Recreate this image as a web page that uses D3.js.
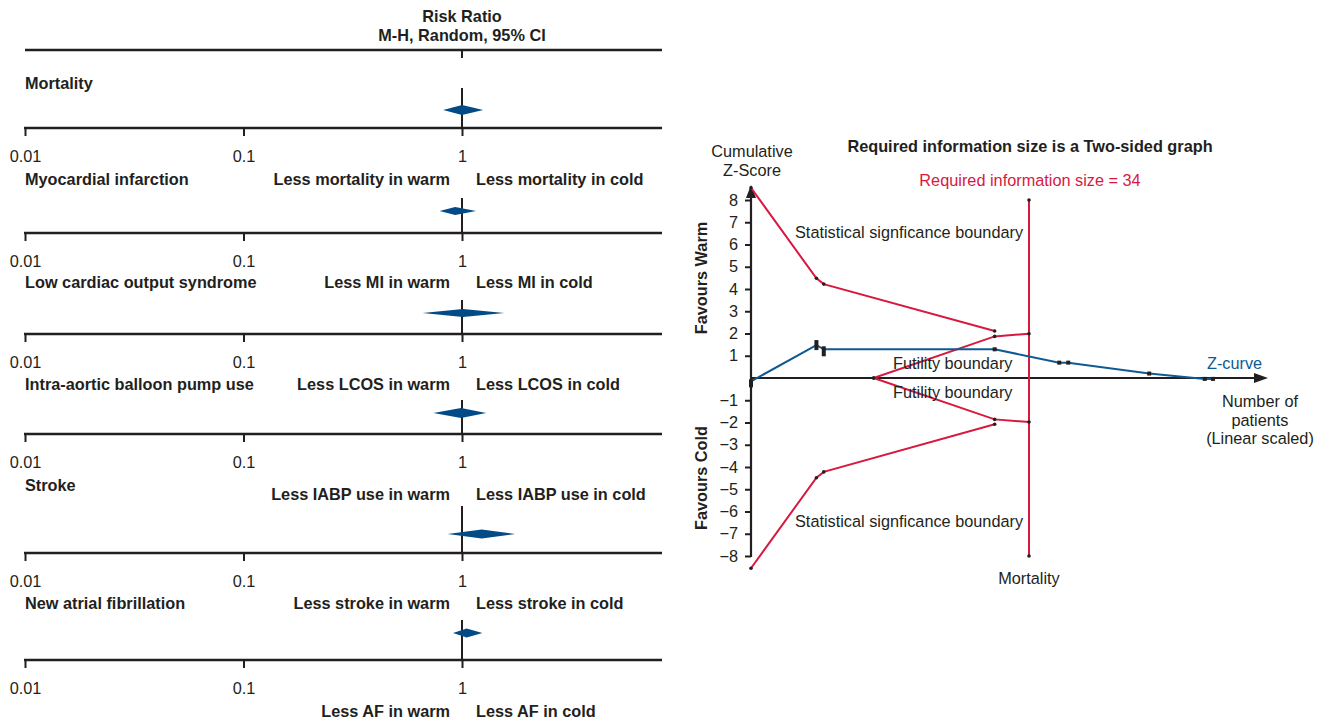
<!DOCTYPE html>
<html>
<head>
<meta charset="utf-8">
<script src="https://cdn.jsdelivr.net/npm/d3@7"></script>
<style>
  body { margin: 0; background: #fff; }
  svg { display: block; }
  text { font-family: "Liberation Sans", Arial, Helvetica, sans-serif; fill: #231f20; }
</style>
</head>
<body>
<svg id="fig" width="1326" height="721"></svg>
<script>
// ---- Forest plot: pooled risk ratios (M-H, random effects, 95% CI) ----
const outcomes = [
  "Mortality",
  "Myocardial infarction",
  "Low cardiac output syndrome",
  "Intra-aortic balloon pump use",
  "Stroke",
  "New atrial fibrillation"
];
const favourTerms = ["mortality", "MI", "LCOS", "IABP use", "stroke", "AF"];
const rrEstimate = [1.00, 0.93, 1.01, 0.99, 1.23, 1.05];
const rrLower    = [0.82, 0.79, 0.66, 0.74, 0.86, 0.91];
const rrUpper    = [1.25, 1.16, 1.56, 1.29, 1.75, 1.24];
const rrTicks    = [0.01, 0.1, 1];

// ---- Trial sequential analysis of mortality ----
const zTicks = [8, 7, 6, 5, 4, 3, 2, 1, -1, -2, -3, -4, -5, -6, -7, -8];
const requiredSize = 34;
const zCurvePatients = [0, 8, 8.9, 29.8, 37.7, 38.8, 48.7, 55.5, 56.5];
const zCurveValues   = [-0.15, 1.48, 1.29, 1.29, 0.69, 0.69, 0.20, -0.04, -0.04];
const sigPatients = [0, 8, 8.9, 29.8];
const sigUpper    = [8.55, 4.48, 4.22, 2.11];
const sigLower    = [-8.55, -4.48, -4.22, -2.08];
const futPatients = [15, 29.8, 34];
const futUpper    = [0, 1.87, 1.99];
const futLower    = [0, -1.86, -1.98];

const RED = "#d7193f", BLUE = "#0f5a93", DIAMOND = "#024b86", INK = "#231f20";
const FS = "16.3px";

const svg = d3.select("#fig");

// ================= Forest plot =================
const layout = {
  axisY:   [128, 233, 334, 434, 553, 660],
  titleY:  [83, 179, 282, 384, 485, 603],
  favourY: [179, 282, 384, 494, 603, 711],
  diamondY:[110, 211, 313, 413, 534, 633],
  refTop:  [88, 198, 300, 400, 506, 620],
  halfH:   [5, 4, 4, 5, 4.5, 4.5],
  axisEnd: 662
};

const xRR = d3.scaleLog().domain([0.01, 1]).range([25, 462]);
const forest = svg.append("g");

// heading
forest.append("text").attr("x", xRR(1)).attr("y", 22).attr("text-anchor", "middle")
  .style("font-size", FS).style("font-weight", "bold").text("Risk Ratio");
forest.append("text").attr("x", xRR(1)).attr("y", 41).attr("text-anchor", "middle")
  .style("font-size", FS).style("font-weight", "bold").text("M-H, Random, 95% CI");
forest.append("line").attr("x1", xRR(0.01)).attr("x2", layout.axisEnd)
  .attr("y1", 50).attr("y2", 50).attr("stroke", INK).attr("stroke-width", 2.5);
forest.append("line").attr("x1", xRR(1)).attr("x2", xRR(1))
  .attr("y1", 50).attr("y2", 58).attr("stroke", INK).attr("stroke-width", 2);

outcomes.forEach((name, i) => {
  const ay = layout.axisY[i];
  const g = forest.append("g");

  // outcome label
  g.append("text").attr("x", 25).attr("y", layout.titleY[i] + 5.5)
    .style("font-size", FS).style("font-weight", "bold").text(name);

  // line of no effect
  g.append("line").attr("x1", xRR(1)).attr("x2", xRR(1))
    .attr("y1", layout.refTop[i]).attr("y2", ay)
    .attr("stroke", INK).attr("stroke-width", 2);

  // pooled estimate diamond
  const cy = layout.diamondY[i], h = layout.halfH[i];
  const pts = [
    [xRR(rrLower[i]), cy], [xRR(rrEstimate[i]), cy - h],
    [xRR(rrUpper[i]), cy], [xRR(rrEstimate[i]), cy + h]
  ];
  g.append("path").attr("d", "M" + pts.join("L") + "Z").attr("fill", DIAMOND);

  // log axis
  const axis = d3.axisBottom(xRR).tickValues(rrTicks).tickFormat(d => String(d))
    .tickSize(8).tickSizeOuter(0).tickPadding(14);
  const ag = g.append("g").attr("transform", `translate(0,${ay})`).call(axis);
  ag.select(".domain").remove();
  ag.selectAll(".tick line").attr("stroke", INK).attr("stroke-width", 2);
  ag.selectAll(".tick text").style("font-size", FS).style("font-family", null)
    .attr("fill", INK).attr("dy", "0.71em");
  g.append("line").attr("x1", xRR(0.01) - 1).attr("x2", layout.axisEnd)
    .attr("y1", ay).attr("y2", ay).attr("stroke", INK).attr("stroke-width", 2.5);

  // direction labels
  g.append("text").attr("x", xRR(1) - 12).attr("y", layout.favourY[i] + 5.5)
    .attr("text-anchor", "end").style("font-size", FS).style("font-weight", "bold")
    .text(`Less ${favourTerms[i]} in warm`);
  g.append("text").attr("x", xRR(1) + 14).attr("y", layout.favourY[i] + 5.5)
    .style("font-size", FS).style("font-weight", "bold")
    .text(`Less ${favourTerms[i]} in cold`);
});

// ================= Trial sequential analysis =================
const xN = d3.scaleLinear().domain([0, requiredSize]).range([751, 1029]);
const yZ = d3.scaleLinear().domain([-8, 8]).range([556, 200]);
const tsa = svg.append("g");

// y axis
const yAxis = d3.axisLeft(yZ).tickValues(zTicks)
  .tickFormat(d => d < 0 ? "\u2212" + Math.abs(d) : String(d))
  .tickSize(6).tickSizeOuter(0).tickPadding(7);
const yg = tsa.append("g").attr("transform", `translate(${xN(0)},0)`).call(yAxis);
yg.select(".domain").remove();
yg.selectAll(".tick line").attr("stroke", INK).attr("stroke-width", 2);
yg.selectAll(".tick text").style("font-size", FS).style("font-family", null).attr("fill", INK);
tsa.append("line").attr("x1", xN(0)).attr("x2", xN(0))
  .attr("y1", yZ(-8) + 1).attr("y2", 195).attr("stroke", INK).attr("stroke-width", 2.2);
tsa.append("path").attr("d", `M${xN(0)},185L${xN(0) - 5},198L${xN(0) + 5},198Z`).attr("fill", INK);

// x axis
tsa.append("line").attr("x1", xN(0)).attr("x2", 1258)
  .attr("y1", yZ(0)).attr("y2", yZ(0)).attr("stroke", INK).attr("stroke-width", 2.2);
tsa.append("path").attr("d", `M1268,${yZ(0)}L1254,${yZ(0) - 5}L1254,${yZ(0) + 5}Z`).attr("fill", INK);

const line = d3.line().x(d => xN(d[0])).y(d => yZ(d[1]));
const zip = (a, b) => a.map((v, i) => [v, b[i]]);

// boundaries
const redSeries = [
  zip(sigPatients, sigUpper),
  zip(sigPatients, sigLower),
  zip(futPatients, futUpper),
  zip(futPatients, futLower)
];
redSeries.forEach(s => {
  tsa.append("path").attr("d", line(s)).attr("fill", "none")
    .attr("stroke", RED).attr("stroke-width", 2);
});

// required information size
const risLine = [[requiredSize, 8], [requiredSize, -8]];
tsa.append("path").attr("d", line(risLine)).attr("stroke", RED).attr("stroke-width", 2);

// Z-curve
tsa.append("path").attr("d", line(zip(zCurvePatients, zCurveValues))).attr("fill", "none")
  .attr("stroke", BLUE).attr("stroke-width", 2);

// vertex dots on boundaries
redSeries.concat([risLine]).forEach(s => {
  tsa.selectAll(null).data(s).enter().append("circle")
    .attr("cx", d => xN(d[0])).attr("cy", d => yZ(d[1])).attr("r", 1.8).attr("fill", INK);
});

// cumulative trial markers
tsa.selectAll(null).data(zip(zCurvePatients, zCurveValues)).enter().append("rect")
  .attr("x", d => xN(d[0]) - 2)
  .attr("y", (d, i) => yZ(d[1]) - (i < 3 ? [2, 5, 3][i] : 2))
  .attr("width", 4)
  .attr("height", (d, i) => i < 3 ? [8, 10, 10][i] : 4)
  .attr("fill", INK);

// labels
const txt = (x, y, s, opts = {}) => {
  const t = tsa.append("text").attr("x", x).attr("y", y).style("font-size", FS).text(s);
  if (opts.anchor) t.attr("text-anchor", opts.anchor);
  if (opts.bold) t.style("font-weight", "bold");
  if (opts.color) t.style("fill", opts.color);
  return t;
};
txt(752, 156.5, "Cumulative", { anchor: "middle" });
txt(752, 176, "Z-Score", { anchor: "middle" });
txt(1030, 151.5, "Required information size is a Two-sided graph", { anchor: "middle", bold: true });
txt(1030, 185.5, `Required information size = ${requiredSize}`, { anchor: "middle", color: RED });
txt(795, 237.5, "Statistical signficance boundary");
txt(795, 526.5, "Statistical signficance boundary");
txt(893, 369, "Futility boundary");
txt(893, 398, "Futility boundary");
txt(1207, 369, "Z-curve", { color: BLUE });
txt(1260, 407, "Number of", { anchor: "middle" });
txt(1260, 425.5, "patients", { anchor: "middle" });
txt(1260, 444, "(Linear scaled)", { anchor: "middle" });
txt(xN(requiredSize), 583.5, "Mortality", { anchor: "middle" });
txt(0, 0, "Favours Warm", { anchor: "middle", bold: true })
  .attr("transform", "translate(707,278) rotate(-90)");
txt(0, 0, "Favours Cold", { anchor: "middle", bold: true })
  .attr("transform", "translate(707,478) rotate(-90)");
</script>
</body>
</html>
